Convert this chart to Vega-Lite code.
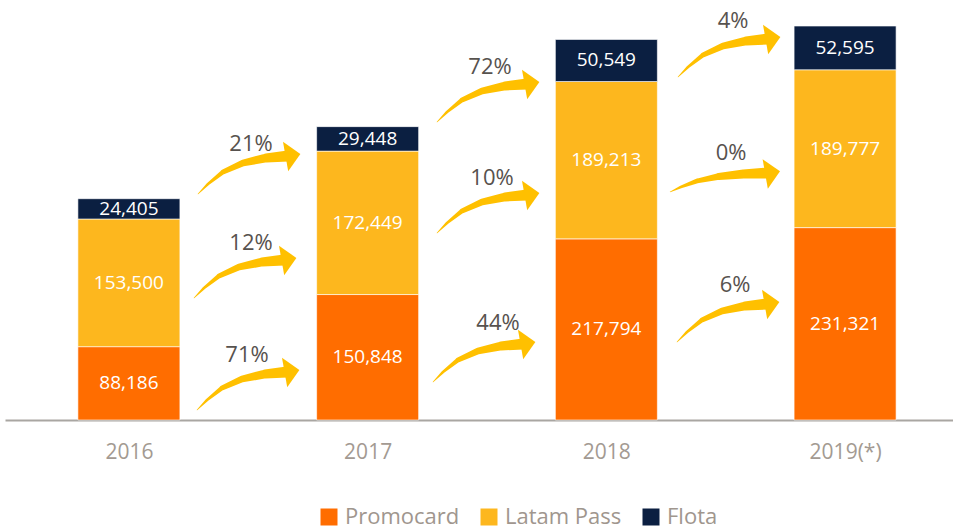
{
  "$schema": "https://vega.github.io/schema/vega-lite/v6.json",
  "width": 948,
  "height": 420,
  "autosize": {"type": "none"},
  "padding": {"left": 5, "top": 0, "right": 0, "bottom": 107},
  "background": "#ffffff",
  "config": {
    "view": {"stroke": null},
    "font": "Open Sans",
    "text": {"font": "Open Sans"}
  },
  "datasets": {
    "bars": [
      {"year": "2016", "idx": 0, "series": "Promocard", "ord": 1, "value": 88186},
      {"year": "2016", "idx": 0, "series": "Latam Pass", "ord": 2, "value": 153500},
      {"year": "2016", "idx": 0, "series": "Flota", "ord": 3, "value": 24405},
      {"year": "2017", "idx": 1, "series": "Promocard", "ord": 1, "value": 150848},
      {"year": "2017", "idx": 1, "series": "Latam Pass", "ord": 2, "value": 172449},
      {"year": "2017", "idx": 1, "series": "Flota", "ord": 3, "value": 29448},
      {"year": "2018", "idx": 2, "series": "Promocard", "ord": 1, "value": 217794},
      {"year": "2018", "idx": 2, "series": "Latam Pass", "ord": 2, "value": 189213},
      {"year": "2018", "idx": 2, "series": "Flota", "ord": 3, "value": 50549},
      {"year": "2019(*)", "idx": 3, "series": "Promocard", "ord": 1, "value": 231321},
      {"year": "2019(*)", "idx": 3, "series": "Latam Pass", "ord": 2, "value": 189777},
      {"year": "2019(*)", "idx": 3, "series": "Flota", "ord": 3, "value": 52595}
    ],
    "arrows": [
      {"a": 1, "s": 0, "x": 0.2853, "y": 12024}, {"a": 1, "s": 1, "x": 0.3272, "y": 24048}, {"a": 1, "s": 2, "x": 0.3900, "y": 38476}, {"a": 1, "s": 3, "x": 0.4738, "y": 49298}, {"a": 1, "s": 4, "x": 0.5701, "y": 55310}, {"a": 1, "s": 5, "x": 0.6623, "y": 57714},
      {"a": 2, "s": 0, "x": 0.2727, "y": 146690}, {"a": 2, "s": 1, "x": 0.3146, "y": 158714}, {"a": 2, "s": 2, "x": 0.3774, "y": 173142}, {"a": 2, "s": 3, "x": 0.4612, "y": 183964}, {"a": 2, "s": 4, "x": 0.5575, "y": 189976}, {"a": 2, "s": 5, "x": 0.6497, "y": 192380},
      {"a": 3, "s": 0, "x": 0.2894, "y": 271738}, {"a": 3, "s": 1, "x": 0.3313, "y": 283762}, {"a": 3, "s": 2, "x": 0.3941, "y": 298190}, {"a": 3, "s": 3, "x": 0.4779, "y": 309012}, {"a": 3, "s": 4, "x": 0.5742, "y": 315024}, {"a": 3, "s": 5, "x": 0.6664, "y": 317428},
      {"a": 4, "s": 0, "x": 1.2906, "y": 358309}, {"a": 4, "s": 1, "x": 1.3325, "y": 370333}, {"a": 4, "s": 2, "x": 1.3953, "y": 384761}, {"a": 4, "s": 3, "x": 1.4791, "y": 395583}, {"a": 4, "s": 4, "x": 1.5754, "y": 401595}, {"a": 4, "s": 5, "x": 1.6676, "y": 403999},
      {"a": 5, "s": 0, "x": 1.2906, "y": 224845}, {"a": 5, "s": 1, "x": 1.3325, "y": 236869}, {"a": 5, "s": 2, "x": 1.3953, "y": 251297}, {"a": 5, "s": 3, "x": 1.4791, "y": 262119}, {"a": 5, "s": 4, "x": 1.5754, "y": 268131}, {"a": 5, "s": 5, "x": 1.6676, "y": 270535},
      {"a": 6, "s": 0, "x": 1.2738, "y": 45690}, {"a": 6, "s": 1, "x": 1.3157, "y": 57714}, {"a": 6, "s": 2, "x": 1.3785, "y": 72142}, {"a": 6, "s": 3, "x": 1.4623, "y": 82964}, {"a": 6, "s": 4, "x": 1.5586, "y": 88976}, {"a": 6, "s": 5, "x": 1.6508, "y": 91380},
      {"a": 7, "s": 0, "x": 2.3001, "y": 412416}, {"a": 7, "s": 1, "x": 2.3420, "y": 424440}, {"a": 7, "s": 2, "x": 2.4048, "y": 438868}, {"a": 7, "s": 3, "x": 2.4886, "y": 449690}, {"a": 7, "s": 4, "x": 2.5849, "y": 455702}, {"a": 7, "s": 5, "x": 2.6771, "y": 458106},
      {"a": 8, "s": 0, "x": 2.2666, "y": 274143}, {"a": 8, "s": 1, "x": 2.3118, "y": 280155}, {"a": 8, "s": 2, "x": 2.3797, "y": 287369}, {"a": 8, "s": 3, "x": 2.4702, "y": 292780}, {"a": 8, "s": 4, "x": 2.5741, "y": 295786}, {"a": 8, "s": 5, "x": 2.6738, "y": 296988},
      {"a": 9, "s": 0, "x": 2.2959, "y": 93786}, {"a": 9, "s": 1, "x": 2.3378, "y": 105810}, {"a": 9, "s": 2, "x": 2.4006, "y": 120238}, {"a": 9, "s": 3, "x": 2.4844, "y": 131060}, {"a": 9, "s": 4, "x": 2.5807, "y": 137072}, {"a": 9, "s": 5, "x": 2.6729, "y": 139476}
    ],
    "heads": [
      {"a": 1, "x": 0.6832, "y": 58676},
      {"a": 2, "x": 0.6706, "y": 193342},
      {"a": 3, "x": 0.6873, "y": 318390},
      {"a": 4, "x": 1.6885, "y": 404961},
      {"a": 5, "x": 1.6885, "y": 271497},
      {"a": 6, "x": 1.6717, "y": 92342},
      {"a": 7, "x": 2.6980, "y": 459068},
      {"a": 8, "x": 2.6964, "y": 297469},
      {"a": 9, "x": 2.6938, "y": 140438}
    ],
    "pcts": [
      {"label": "71%", "x": 0.4947, "y": 78155},
      {"label": "12%", "x": 0.5115, "y": 212821},
      {"label": "21%", "x": 0.5115, "y": 331857},
      {"label": "72%", "x": 1.5126, "y": 424440},
      {"label": "10%", "x": 1.5210, "y": 290976},
      {"label": "44%", "x": 1.5461, "y": 116631},
      {"label": "4%", "x": 2.5305, "y": 479750},
      {"label": "0%", "x": 2.5221, "y": 321035},
      {"label": "6%", "x": 2.5389, "y": 162321}
    ]
  },
  "layer": [
    {
      "data": {"name": "bars"},
      "mark": {"type": "bar", "width": 102, "stroke": "#ffffff", "strokeWidth": 0.6},
      "encoding": {
        "x": {
          "field": "idx", "type": "quantitative",
          "scale": {"domain": [-0.519, 3.452], "nice": false, "zero": false, "padding": 0},
          "axis": {
            "values": [0, 1, 2, 3],
            "labelExpr": "['2016','2017','2018','2019(*)'][datum.value]",
            "title": null, "grid": false, "ticks": false,
            "labelFont": "Open Sans", "labelFontSize": 21, "labelColor": "#A39A92",
            "labelPadding": 21, "domainColor": "#A9A6A2", "domainWidth": 2,
            "labelFlush": false
          }
        },
        "y": {
          "field": "value", "type": "quantitative", "stack": "zero",
          "scale": {"domain": [0, 505000], "nice": false, "padding": 0},
          "axis": null
        },
        "color": {
          "field": "series", "type": "nominal",
          "scale": {"domain": ["Promocard", "Latam Pass", "Flota"], "range": ["#FF6D00", "#FDB71E", "#0B1F41"]},
          "legend": {
            "title": null, "orient": "none", "direction": "horizontal",
            "legendX": 313, "legendY": 506,
            "symbolType": "square", "symbolSize": 289, "symbolStrokeWidth": 0, "symbolOpacity": 1,
            "labelFont": "Open Sans", "labelFontSize": 22, "labelColor": "#A0968E",
            "labelOffset": 5, "columnPadding": 18, "padding": 0
          }
        },
        "order": {"field": "ord", "type": "quantitative"}
      }
    },
    {
      "data": {"name": "bars"},
      "transform": [
        {"stack": "value", "groupby": ["idx"], "sort": [{"field": "ord", "order": "ascending"}], "as": ["v0", "v1"]},
        {"calculate": "(datum.v0 + datum.v1) / 2", "as": "mid"}
      ],
      "mark": {"type": "text", "color": "#ffffff", "font": "Open Sans", "fontSize": 19, "baseline": "middle", "align": "center"},
      "encoding": {
        "x": {"field": "idx", "type": "quantitative"},
        "y": {"field": "mid", "type": "quantitative"},
        "text": {"field": "value", "type": "quantitative", "format": ",.0f"}
      }
    },
    {
      "data": {"name": "arrows"},
      "mark": {"type": "trail", "color": "#FFC000"},
      "encoding": {
        "x": {"field": "x", "type": "quantitative"},
        "y": {"field": "y", "type": "quantitative"},
        "detail": {"field": "a", "type": "nominal"},
        "order": {"field": "s", "type": "quantitative"},
        "size": {"field": "s", "type": "quantitative", "scale": {"domain": [0, 5], "range": [0.5, 11], "zero": false}, "legend": null}
      }
    },
    {
      "data": {"name": "heads"},
      "mark": {"type": "point", "shape": "M-0.5,-1L0.5,0L-0.5,1Z", "size": 900, "filled": true, "opacity": 1, "color": "#FFC000", "angle": -10, "strokeWidth": 0},
      "encoding": {
        "x": {"field": "x", "type": "quantitative"},
        "y": {"field": "y", "type": "quantitative"}
      }
    },
    {
      "data": {"name": "pcts"},
      "mark": {"type": "text", "color": "#57524E", "font": "Open Sans", "fontSize": 22, "baseline": "middle", "align": "center"},
      "encoding": {
        "x": {"field": "x", "type": "quantitative"},
        "y": {"field": "y", "type": "quantitative"},
        "text": {"field": "label", "type": "nominal"}
      }
    }
  ]
}
